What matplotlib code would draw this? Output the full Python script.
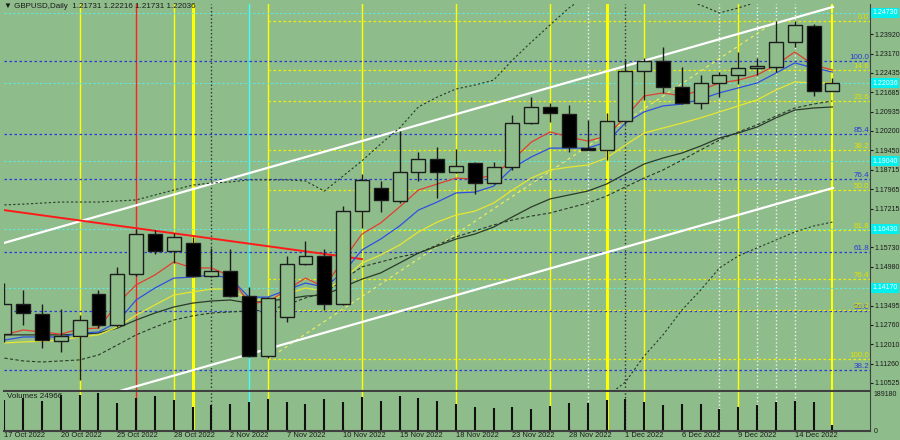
import matplotlib
matplotlib.use('Agg')
import matplotlib.pyplot as plt
from matplotlib.patches import Rectangle
import numpy as np

plt.rcParams['font.family'] = ['Liberation Sans', 'DejaVu Sans']

# daily GBPUSD bars, 17 Oct 2022 .. 16 Dec 2022
opens = [1.1240, 1.1356, 1.1317, 1.1214, 1.1233, 1.1394, 1.1275, 1.1471, 1.1624, 1.1559,
         1.1590, 1.1463, 1.1482, 1.1386, 1.1156, 1.1306, 1.1509, 1.1540, 1.1356, 1.1713,
         1.1801, 1.1751, 1.1862, 1.1912, 1.1862, 1.1897, 1.1820, 1.1881, 1.2050, 1.2112,
         1.2085, 1.1954, 1.1947, 1.2058, 1.2250, 1.2288, 1.2189, 1.2127, 1.2204, 1.2235,
         1.2261, 1.2265, 1.2361, 1.2423, 1.21731]
highs = [1.1436, 1.1409, 1.1356, 1.1336, 1.1313, 1.1409, 1.1498, 1.1643, 1.1640, 1.1628,
         1.1613, 1.1570, 1.1567, 1.1421, 1.1382, 1.1540, 1.1597, 1.1567, 1.1732, 1.1855,
         1.1828, 1.2020, 1.1939, 1.1958, 1.1951, 1.1901, 1.1901, 1.2081, 1.2150, 1.2127,
         1.2119, 1.2062, 1.2089, 1.2292, 1.2300, 1.2342, 1.2265, 1.2235, 1.2246, 1.2323,
         1.2300, 1.2442, 1.2442, 1.2430, 1.22216]
lows = [1.1210, 1.1275, 1.1187, 1.1171, 1.1064, 1.1263, 1.1267, 1.1463, 1.1548, 1.1513,
        1.1459, 1.1459, 1.1382, 1.1152, 1.1148, 1.1286, 1.1505, 1.1332, 1.1352, 1.1647,
        1.1709, 1.1743, 1.1828, 1.1762, 1.1858, 1.1778, 1.1818, 1.1870, 1.2047, 1.2054,
        1.1939, 1.1945, 1.1908, 1.2047, 1.2139, 1.2166, 1.2124, 1.2104, 1.2150, 1.2200,
        1.2235, 1.2246, 1.2342, 1.2154, 1.21731]
closes = [1.1356, 1.1321, 1.1217, 1.1233, 1.1294, 1.1275, 1.1471, 1.1624, 1.1559, 1.1613,
          1.1463, 1.1482, 1.1386, 1.1156, 1.1379, 1.1509, 1.1540, 1.1356, 1.1713, 1.1832,
          1.1755, 1.1862, 1.1912, 1.1862, 1.1885, 1.1820, 1.1881, 1.2050, 1.2112, 1.2089,
          1.1958, 1.1948, 1.2058, 1.2250, 1.2288, 1.2189, 1.2127, 1.2204, 1.2235, 1.2261,
          1.2269, 1.2361, 1.2427, 1.2173, 1.22036]
volumes = [153000, 164000, 148000, 179000, 179000, 189180, 138000, 164000, 174000, 153000,
           118000, 128000, 133000, 143000, 158000, 143000, 133000, 158000, 143000, 169000,
           148000, 174000, 164000, 148000, 133000, 118000, 112000, 118000, 107000, 123000,
           138000, 138000, 153000, 158000, 143000, 128000, 133000, 133000, 107000, 118000,
           128000, 143000, 148000, 143000, 24966]

# indicator lines
ma_red = [1.1237, 1.1256, 1.1248, 1.1240, 1.1260, 1.1263, 1.1356, 1.1429, 1.1467, 1.1517,
          1.1494, 1.1494, 1.1463, 1.1359, 1.1363, 1.1409, 1.1455, 1.1421, 1.1524, 1.1624,
          1.1667, 1.1728, 1.1793, 1.1816, 1.1839, 1.1835, 1.1851, 1.1908, 1.1977, 1.2016,
          1.1997, 1.1981, 1.2000, 1.2073, 1.2154, 1.2166, 1.2154, 1.2177, 1.2204, 1.2215,
          1.2235, 1.2273, 1.2323, 1.2273, 1.2254]
ma_blue = [1.1217, 1.1229, 1.1229, 1.1229, 1.1244, 1.1248, 1.1286, 1.1371, 1.1417, 1.1455,
           1.1459, 1.1467, 1.1455, 1.1382, 1.1382, 1.1409, 1.1436, 1.1421, 1.1475, 1.1563,
           1.1605, 1.1655, 1.1716, 1.1747, 1.1782, 1.1785, 1.1808, 1.1878, 1.1920, 1.1954,
           1.1954, 1.1954, 1.1977, 1.2050, 1.2093, 1.2116, 1.2123, 1.2142, 1.2166, 1.2185,
           1.2204, 1.2242, 1.2281, 1.2262, 1.2246]
ma_yellow = [1.1206, 1.1210, 1.1213, 1.1217, 1.1229, 1.1237, 1.1267, 1.1313, 1.1352, 1.1390,
             1.1402, 1.1413, 1.1413, 1.1371, 1.1371, 1.1394, 1.1417, 1.1405, 1.1451, 1.1513,
             1.1544, 1.1582, 1.1632, 1.1670, 1.1697, 1.1712, 1.1743, 1.1793, 1.1839, 1.1870,
             1.1881, 1.1889, 1.1916, 1.1966, 1.2012, 1.2031, 1.2050, 1.2070, 1.2093, 1.2116,
             1.2139, 1.2177, 1.2208, 1.2204, 1.2204]
ma_dark = [1.1237, 1.1237, 1.1237, 1.1237, 1.1240, 1.1244, 1.1263, 1.1294, 1.1321, 1.1344,
           1.1359, 1.1367, 1.1371, 1.1359, 1.1367, 1.1375, 1.1386, 1.1390, 1.1421, 1.1451,
           1.1475, 1.1513, 1.1551, 1.1578, 1.1605, 1.1624, 1.1651, 1.1690, 1.1728, 1.1759,
           1.1774, 1.1789, 1.1816, 1.1855, 1.1893, 1.1916, 1.1935, 1.1962, 1.1993, 1.2012,
           1.2035, 1.2070, 1.2100, 1.2108, 1.2112]
ma_dashed = [1.1148, 1.1137, 1.1133, 1.1137, 1.1141, 1.1160, 1.1198, 1.1237, 1.1267, 1.1294,
             1.1310, 1.1321, 1.1325, 1.1329, 1.1332, 1.1352, 1.1379, 1.1398, 1.1448, 1.1498,
             1.1517, 1.1536, 1.1551, 1.1582, 1.1613, 1.1636, 1.1659, 1.1678, 1.1693, 1.1705,
             1.1724, 1.1743, 1.1770, 1.1805, 1.1839, 1.1870, 1.1908, 1.1947, 1.1985, 1.2016,
             1.2043, 1.2077, 1.2108, 1.2123, 1.2135]
band_upper = [1.1736, 1.1739, 1.1743, 1.1747, 1.1747, 1.1747, 1.1751, 1.1755, 1.1774, 1.1793,
              1.1812, 1.1820, 1.1824, 1.1832, 1.1832, 1.1832, 1.1828, 1.1789, 1.1847, 1.1905,
              1.1970, 1.2031, 1.2112, 1.2150, 1.2181, 1.2196, 1.2215, 1.2292, 1.2361, 1.2427,
              1.2492, 1.2542, 1.2561, 1.2553, 1.2542, 1.2534, 1.2523, 1.2503, 1.2473, 1.2492,
              1.2515, 1.2553, 1.2592, 1.2607, 1.2618]
band_lower = [1.0987, 1.0968, 1.0949, 1.0949, 1.0949, 1.0956, 1.0968, 1.0987, 1.0995, 1.0995,
              1.0995, 1.0987, 1.0979, 1.0968, 1.0968, 1.0987, 1.0990, 1.0985, 1.0990, 1.0995,
              1.0990, 1.0985, 1.0980, 1.0985, 1.0995, 1.1010, 1.1020, 1.1010, 1.0995, 1.0975,
              1.0965, 1.0970, 1.1000, 1.1056, 1.1156, 1.1237, 1.1332, 1.1409, 1.1494, 1.1540,
              1.1571, 1.1601, 1.1632, 1.1655, 1.1670]

date_idx = [0, 3, 6, 9, 12, 15, 18, 21, 24, 27, 30, 33, 36, 39, 42]
date_labels = ['17 Oct 2022', '20 Oct 2022', '25 Oct 2022', '28 Oct 2022', '2 Nov 2022',
               '7 Nov 2022', '10 Nov 2022', '15 Nov 2022', '18 Nov 2022', '23 Nov 2022',
               '28 Nov 2022', '1 Dec 2022', '6 Dec 2022', '9 Dec 2022', '14 Dec 2022']
price_ticks = [1.23920, 1.23170, 1.22435, 1.21685, 1.20935, 1.20200, 1.19450, 1.18715,
               1.17965, 1.17215, 1.16480, 1.15730, 1.14980, 1.14245, 1.13495, 1.12760,
               1.12010, 1.11260, 1.10525]

# fibonacci tools
fib_y_hi, fib_y_lo = 1.2442, 1.1144          # yellow: 0.0 -> 100.0
fib_y_levels = [0.0, 14.6, 23.6, 38.2, 50.0, 61.8, 76.4, 85.4, 100.0]
fib_y_start, fib_y_end = 14, 41
fib_b_hi, fib_b_lo = 1.2288, 1.0369          # blue: 100.0 -> 0.0
fib_b_levels = [100.0, 85.4, 76.4, 61.8, 50.0, 38.2]

cyan_levels = [1.24730, 1.22036, 1.19040, 1.16430, 1.14170]

# drawn objects
channel_up = ([-0.02, 44.03], [1.1590, 1.2496])
channel_lo = ([6.15, 44.03], [1.1022, 1.1801])
red_trend = ([-0.02, 19.0], [1.1716, 1.1528])

vl_idx = [4, 7, 9, 10, 11, 13, 14, 19, 24, 29, 31, 32, 33, 34, 38, 39, 40, 41, 42, 44]
vl_color = ['y', 'r', 'y', 'y', 'k', 'c', 'y', 'y', 'y', 'y', 'w', 'y', 'k', 'y', 'w', 'y',
            'w', 'w', 'w', 'y']
vl_width = [1, 1, 1, 2.2, 1, 1, 1, 1, 1, 1, 1, 2.2, 1, 1, 1, 1, 1, 1, 1, 1.5]

BG = '#8fbc8b'
EDGE = '#1c1c1c'
YEL = '#f0f000'
BLUE = '#2a3ad8'
CYAN = '#5fe8e0'
TXT = '#1a1a1a'
cmap = {'y': '#ffff00', 'r': '#ff2020', 'k': '#303030', 'c': '#40ffff', 'w': '#f4f4f4'}

W, H = 900, 440
fig = plt.figure(figsize=(9, 4.4), dpi=100)
fig.patch.set_facecolor(BG)


def box(x0, y0, x1, y1):
    return [x0 / W, 1 - y1 / H, (x1 - x0) / W, (y1 - y0) / H]


ax = fig.add_axes(box(4, 4, 870, 391))
axv = fig.add_axes(box(4, 392, 870, 431), sharex=ax)
for a in (ax, axv):
    a.set_facecolor(BG)
    for s in ('top', 'left'):
        a.spines[s].set_visible(False)
    a.spines['right'].set_color('#404040')
    a.spines['bottom'].set_color('#404040')
    a.spines['bottom'].set_linewidth(1.5)

x = np.arange(len(closes))
ax.set_xlim(-0.02, 46.0)
ax.set_ylim(1.10216, 1.25072)

# vertical separators
for i, c, w in zip(vl_idx, vl_color, vl_width):
    ls = ':' if c in ('k', 'w') else '-'
    for a in (ax, axv):
        a.axvline(i, color=cmap[c], lw=w, ls=ls, zorder=1)

# horizontal levels
for lv in cyan_levels:
    ax.axhline(lv, color=CYAN, lw=0.8, ls=(0, (2, 2)), zorder=1)
for r in fib_b_levels:
    lv = fib_b_lo + (fib_b_hi - fib_b_lo) * r / 100
    ax.axhline(lv, color=BLUE, lw=0.9, ls=(0, (2, 2)), zorder=1)
    ax.text(45.95, lv, '%.1f' % r, color=BLUE, fontsize=5.8, ha='right', va='bottom')
for r in fib_y_levels:
    lv = fib_y_hi - (fib_y_hi - fib_y_lo) * r / 100
    ax.hlines(lv, fib_y_start, 46, color=YEL, lw=0.9, ls=(0, (2, 2)), zorder=1)
    ax.text(45.95, lv, '%.1f' % r, color='#e0e000', fontsize=5.8, ha='right', va='bottom')
ax.plot([fib_y_start, fib_y_end], [fib_y_lo, fib_y_hi], color='#f0f060', lw=0.8,
        ls=(0, (3, 3)), zorder=1)

# channel + trendline
ax.plot(*channel_up, color='white', lw=1.6, zorder=2)
ax.plot(*channel_lo, color='white', lw=1.6, zorder=2)
ax.plot(*red_trend, color='#ff1a1a', lw=1.4, zorder=2)

# indicators
ax.plot(x, band_upper, color='#2a3a2a', lw=0.8, ls=(0, (2, 2)), zorder=3)
ax.plot(x, band_lower, color='#2a3a2a', lw=0.8, ls=(0, (2, 2)), zorder=3)
ax.plot(x, ma_dashed, color='#2a3a2a', lw=0.8, ls=(0, (3, 2)), zorder=3)
ax.plot(x, ma_dark, color='#2a3a2a', lw=0.9, zorder=3)
ax.plot(x, ma_yellow, color='#e6e633', lw=0.9, zorder=3)
ax.plot(x, ma_blue, color='#3050e0', lw=0.9, zorder=3)
ax.plot(x, ma_red, color='#e04030', lw=0.9, zorder=3)

# candles
for i in x:
    o, h, l, c = opens[i], highs[i], lows[i], closes[i]
    ax.vlines(i, l, h, color=EDGE, lw=1, zorder=5)
    face = 'black' if c < o else BG
    ax.add_patch(Rectangle((i - 0.37, min(o, c)), 0.74, max(abs(c - o), 0.00006),
                           facecolor=face, edgecolor=EDGE, lw=1, zorder=6))

# price axis (labels under the cyan boxes are hidden, as on the terminal)
hidden = (1.16480, 1.14245)
ax.yaxis.tick_right()
ax.set_yticks(price_ticks)
ax.set_yticklabels(['' if p in hidden else '%.5f' % p for p in price_ticks])
ax.tick_params(axis='y', length=2.5, width=0.8, pad=0.8, labelsize=5.0, colors=TXT)
ax.tick_params(axis='x', bottom=False, labelbottom=False)

for lv in cyan_levels:
    ax.text(1.003, lv, '%.5f' % lv, transform=ax.get_yaxis_transform(), color='white',
            fontsize=5.0, ha='left', va='center', clip_on=False, zorder=10,
            bbox=dict(facecolor='#00f0f0', edgecolor='none', pad=0.9))

fig.text(4 / W, 1 - 7 / H, '\u25bc GBPUSD,Daily  1.21731 1.22216 1.21731 1.22036',
         fontsize=5.8, color=TXT, va='center', ha='left')

# volumes
axv.vlines(x, 0, volumes, color='#101010', lw=1.5, zorder=3)
axv.set_ylim(-5113, 194300)
axv.yaxis.tick_right()
axv.set_yticks([0, 189180])
axv.set_yticklabels(['0', '189180'])
axv.tick_params(axis='y', length=0, pad=2.5, labelsize=5.0, colors=TXT)
axv.text(0.004, 0.97, 'Volumes 24966', transform=axv.transAxes, fontsize=5.8, color=TXT,
         va='top', ha='left')
axv.set_xticks(date_idx)
axv.set_xticklabels(date_labels, ha='left')
axv.set_xticks(x, minor=True)
axv.tick_params(axis='x', which='major', direction='in', length=3, pad=0.5,
                labelsize=5.4, colors=TXT)
axv.tick_params(axis='x', which='minor', direction='in', length=2)

fig.savefig('out.png', dpi=100, facecolor=BG)
